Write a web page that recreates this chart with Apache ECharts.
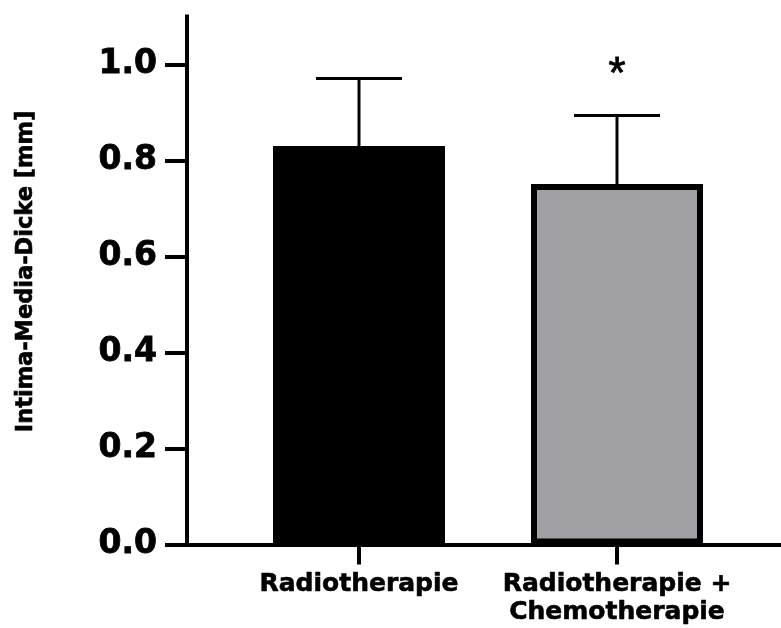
<!DOCTYPE html>
<html>
<head>
<meta charset="utf-8">
<script src="https://cdn.jsdelivr.net/npm/echarts@6/dist/echarts.min.js"></script>
<style>
  html, body { margin: 0; padding: 0; background: #ffffff; }
  #chart { width: 781px; height: 628px; }
</style>
</head>
<body>
<div id="chart"></div>
<script>
// Group names, their slots on the x scale, mean thickness and standard deviation
const categories = ['Radiotherapie', 'Radiotherapie +\nChemotherapie'];
const positions = [1, 2];
const means = [0.830, 0.751];
const sd = [0.141, 0.143];
const significance = ['', '*'];
const yTicks = [0, 0.2, 0.4, 0.6, 0.8, 1.0];
const barColors = ['#000000', '#a09fa4'];

const FONT = '"DejaVu Sans", sans-serif';

const barData = positions.map((p, i) => ({
  value: [p, means[i]],
  itemStyle: { color: barColors[i], borderColor: '#000000', borderWidth: 6 }
}));
const errData = positions.map((p, i) => [p, means[i], sd[i]]);

const chart = echarts.init(document.getElementById('chart'), null, { renderer: 'canvas' });

chart.setOption({
  backgroundColor: '#ffffff',
  animation: false,
  grid: { left: 187, right: 0, top: 16.5, bottom: 83.5, containLabel: false },
  xAxis: {
    type: 'value',
    min: 0.3333,
    max: 2.6357,
    splitLine: { show: false },
    axisLine: { show: true, onZero: false, lineStyle: { color: '#000', width: 4 } },
    axisTick: { show: true, length: 20, customValues: positions, lineStyle: { color: '#000', width: 4 } },
    axisLabel: {
      customValues: positions,
      formatter: v => categories[positions.indexOf(v)] || '',
      color: '#000',
      fontFamily: FONT,
      fontWeight: 'bold',
      fontSize: 25,
      lineHeight: 28,
      margin: 26,
      textBorderColor: '#000',
      textBorderWidth: 0.6
    }
  },
  yAxis: {
    type: 'value',
    min: 0,
    max: 1.1,
    name: 'Intima-Media-Dicke [mm]',
    nameLocation: 'middle',
    nameGap: 149,
    nameRotate: 90,
    nameTextStyle: { color: '#000', fontFamily: FONT, fontWeight: 'bold', fontSize: 22.5,
                     textBorderColor: '#000', textBorderWidth: 0.6,
                     padding: [0, 0, 0, 18] },
    splitLine: { show: false },
    axisLine: { show: true, lineStyle: { color: '#000', width: 4, cap: 'square' } },
    axisTick: { show: true, length: 22, customValues: yTicks, lineStyle: { color: '#000', width: 4 } },
    axisLabel: {
      customValues: yTicks,
      formatter: v => v.toFixed(1),
      color: '#000',
      fontFamily: FONT,
      fontWeight: 'bold',
      fontSize: 33,
      margin: 30,
      textBorderColor: '#000',
      textBorderWidth: 0.8
    }
  },
  series: [
    {
      type: 'bar',
      data: barData,
      barWidth: 172,
      z: 2
    },
    {
      type: 'custom',
      data: errData,
      encode: { x: 0, y: 1 },
      z: 3,
      renderItem: (params, api) => {
        const x = api.value(0);
        const m = api.value(1);
        const e = api.value(2);
        const base = api.coord([x, m]);
        const top = api.coord([x, m + e]);
        const half = 43;
        const children = [
          { type: 'line', shape: { x1: base[0], y1: base[1], x2: top[0], y2: top[1] },
            style: { stroke: '#000', lineWidth: 3 } },
          { type: 'line', shape: { x1: top[0] - half, y1: top[1], x2: top[0] + half, y2: top[1] },
            style: { stroke: '#000', lineWidth: 3 } }
        ];
        const mark = significance[params.dataIndex];
        if (mark) {
          children.push({
            type: 'text',
            x: top[0],
            y: top[1] - 40,
            style: { text: mark, fill: '#000', font: 'normal 44px "Liberation Sans"',
                     align: 'center', verticalAlign: 'middle',
                     stroke: '#000', lineWidth: 0.8 }
          });
        }
        return { type: 'group', children };
      }
    }
  ]
});
</script>
</body>
</html>
